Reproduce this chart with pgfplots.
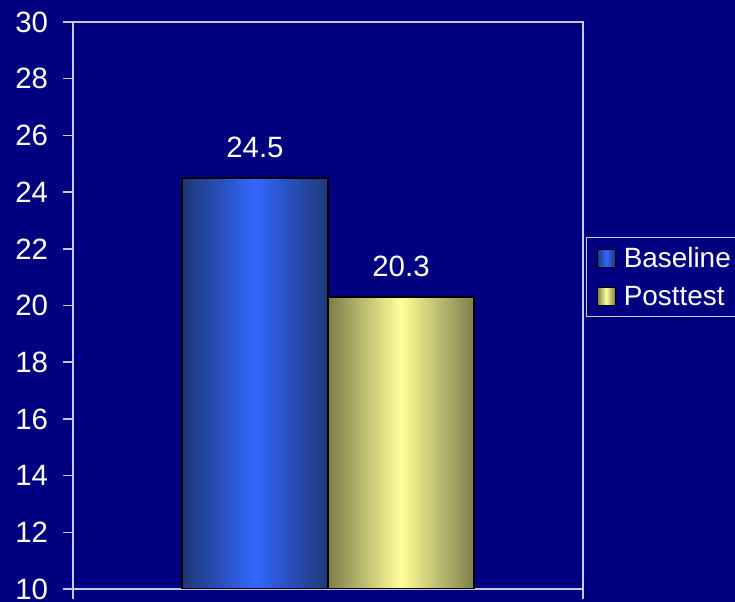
\documentclass[border=0pt]{standalone}
\usepackage{pgfplots}
\pgfplotsset{compat=1.18}
\usepackage{fontspec}
\setmainfont{Liberation Sans}
\definecolor{bg}{RGB}{0,0,128}
\definecolor{axc}{RGB}{200,200,225}
\definecolor{blueC}{RGB}{51,102,255}
\definecolor{blueE}{RGB}{30,55,115}
\definecolor{yelC}{RGB}{255,255,153}
\definecolor{yelE}{RGB}{125,125,75}
\begin{document}
\begin{tikzpicture}
\fill[bg] (-73bp,-13bp) rectangle (662bp,589bp);
\useasboundingbox (-73bp,-13bp) rectangle (662bp,589bp);
\begin{axis}[
 at={(0,0)}, anchor=south west,
 scale only axis, width=510bp, height=567bp,
 xmin=0, xmax=510, ymin=10, ymax=30,
 xtick={0,510}, xticklabels={}, xtick pos=lower,
 ytick={10,12,...,30}, ytick pos=left,
 axis line style={axc, line width=1.5bp},
 tick style={axc, line width=1.5bp},
 tick align=outside, major tick length=9.5bp,
 font=\fontsize{29.5}{34}\selectfont,
 /pgf/number format/assume math mode=true,
 tick label style={white},
 yticklabel style={xshift=-12bp},
 nodes near coords,
 nodes near coords style={white, yshift=16bp},
 legend style={at={(rel axis cs:1,0.621)}, anchor=north west, xshift=3bp,
   fill=bg, draw=axc, line width=1.2bp, text=white,
   font=\fontsize{28}{32}\selectfont, row sep=13bp, inner ysep=8bp},
 legend cell align=left,
 legend image code/.code={\path (-7bp,0) (24bp,0); \draw[#1, draw=black, line width=1bp] (0bp,-9bp) rectangle (18bp,9bp);},
]
\addplot[ybar, bar width=146bp, bar shift=0pt, draw=black, line width=1.2bp,
  left color=blueE, right color=blueE, middle color=blueC] coordinates {(182,24.5)};
\addlegendentry{Baseline}
\addplot[ybar, bar width=146bp, bar shift=0pt, draw=black, line width=1.2bp,
  left color=yelE, right color=yelE, middle color=yelC] coordinates {(328,20.3)};
\addlegendentry{Posttest}
\end{axis}
\end{tikzpicture}
\end{document}
